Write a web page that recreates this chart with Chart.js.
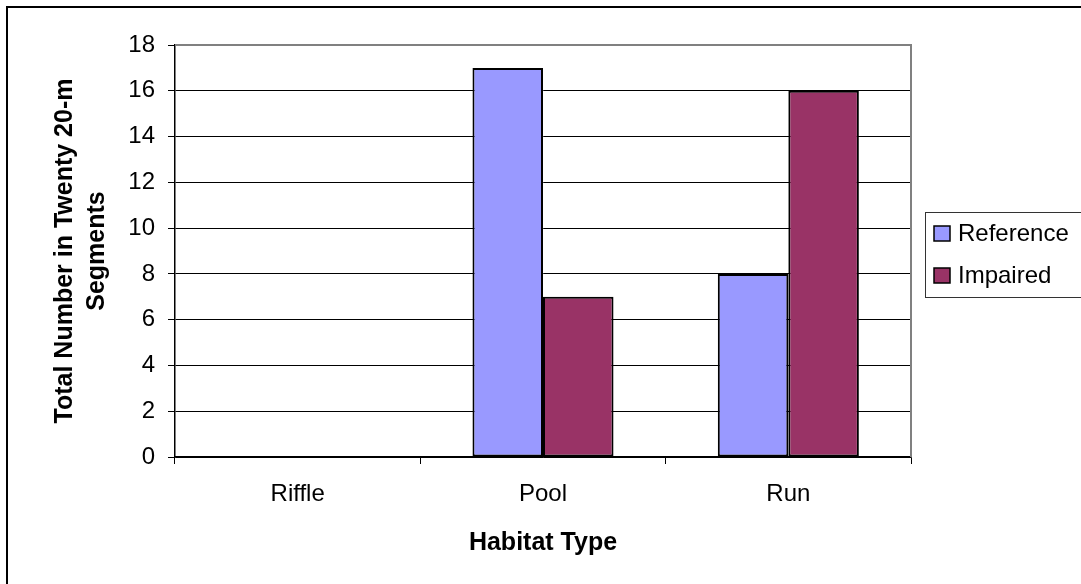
<!DOCTYPE html>
<html>
<head>
<meta charset="utf-8">
<script src="https://cdn.jsdelivr.net/npm/chart.js@4.4.0/dist/chart.umd.min.js"></script>
<style>
  html, body { margin: 0; padding: 0; background: #ffffff; }
  #wrap { width: 1081px; height: 584px; position: relative; }
</style>
</head>
<body>
<div id="wrap"><canvas id="c" width="1081" height="584"></canvas></div>
<script>
const categories = ["Riffle", "Pool", "Run"];
const referenceValues = [0, 17, 8];
const impairedValues = [0, 7, 16];
const seriesNames = ["Reference", "Impaired"];
const seriesColors = ["#9999FF", "#993366"];
const yTitleLines = ["Total Number in Twenty 20-m", "Segments"];
const xTitle = "Habitat Type";
const yMin = 0, yMax = 18, yStep = 2;

const FONT = "'Liberation Sans', Arial, Helvetica, sans-serif";

const framePlugin = {
  id: 'frame',
  beforeDraw(chart) {
    const ctx = chart.ctx;
    ctx.save();
    ctx.fillStyle = '#ffffff';
    ctx.fillRect(0, 0, chart.width, chart.height);
    ctx.strokeStyle = '#000000';
    ctx.lineWidth = 2;
    ctx.strokeRect(7, 7, 2000, 2000);
    ctx.restore();
  },
  afterDraw(chart) {
    const ctx = chart.ctx;
    const a = chart.chartArea;
    ctx.save();
    ctx.strokeStyle = '#808080';
    ctx.lineWidth = 2;
    ctx.beginPath();
    ctx.moveTo(a.left, a.top);
    ctx.lineTo(a.right, a.top);
    ctx.lineTo(a.right, a.bottom);
    ctx.stroke();
    const lx = 925, ly = 212, lw = 160, lh = 85;
    ctx.fillStyle = '#ffffff';
    ctx.fillRect(lx, ly, lw, lh);
    ctx.strokeStyle = '#333333';
    ctx.lineWidth = 1;
    ctx.strokeRect(lx + 0.5, ly + 0.5, lw, lh);
    ctx.font = '24px ' + FONT;
    ctx.textBaseline = 'middle';
    ctx.textAlign = 'left';
    const rows = [233, 275];
    chart.data.datasets.forEach((ds, i) => {
      const cy = rows[i];
      ctx.fillStyle = ds.backgroundColor;
      ctx.fillRect(lx + 9, cy - 7, 16, 15);
      ctx.strokeStyle = '#000000';
      ctx.lineWidth = 1.5;
      ctx.strokeRect(lx + 9, cy - 7, 16, 15);
      ctx.fillStyle = '#000000';
      ctx.fillText(ds.label, lx + 33, cy + 1);
    });
    ctx.restore();
  }
};

new Chart(document.getElementById('c'), {
  type: 'bar',
  data: {
    labels: categories,
    datasets: [
      {
        label: seriesNames[0],
        data: referenceValues,
        backgroundColor: seriesColors[0],
        borderColor: '#000000',
        borderWidth: 2,
        borderSkipped: false,
        categoryPercentage: 0.575,
        barPercentage: 1.0
      },
      {
        label: seriesNames[1],
        data: impairedValues,
        backgroundColor: seriesColors[1],
        borderColor: '#000000',
        borderWidth: 2,
        borderSkipped: false,
        categoryPercentage: 0.575,
        barPercentage: 1.0
      }
    ]
  },
  options: {
    responsive: false,
    animation: false,
    devicePixelRatio: 1,
    layout: { padding: { left: 0, right: 170, top: 45, bottom: 0 } },
    plugins: {
      legend: { display: false },
      tooltip: { enabled: false }
    },
    scales: {
      x: {
        grid: {
          display: true,
          drawOnChartArea: false,
          drawTicks: true,
          tickLength: 7,
          color: '#000000',
          offset: true
        },
        border: { display: true, color: '#000000', width: 1.5 },
        ticks: {
          color: '#000000',
          font: { family: FONT, size: 24 },
          padding: 16
        },
        title: {
          display: true,
          text: xTitle,
          color: '#000000',
          font: { family: FONT, size: 25, weight: 'bold', lineHeight: 1.2 },
          padding: { top: 0, bottom: 26 }
        },
        afterFit(scale) { scale.height = 127; }
      },
      y: {
        min: yMin,
        max: yMax,
        grid: {
          color: '#000000',
          lineWidth: 1,
          tickLength: 7,
          drawTicks: true
        },
        border: { display: true, color: '#000000', width: 1.5 },
        ticks: {
          stepSize: yStep,
          color: '#000000',
          font: { family: FONT, size: 24 },
          padding: 13
        },
        title: {
          display: true,
          text: yTitleLines,
          color: '#000000',
          font: { family: FONT, size: 25, weight: 'bold', lineHeight: 1.28 },
          padding: { top: 49, bottom: 0 }
        },
        afterFit(scale) { scale.width = 175; }
      }
    }
  },
  plugins: [framePlugin]
});
</script>
</body>
</html>
